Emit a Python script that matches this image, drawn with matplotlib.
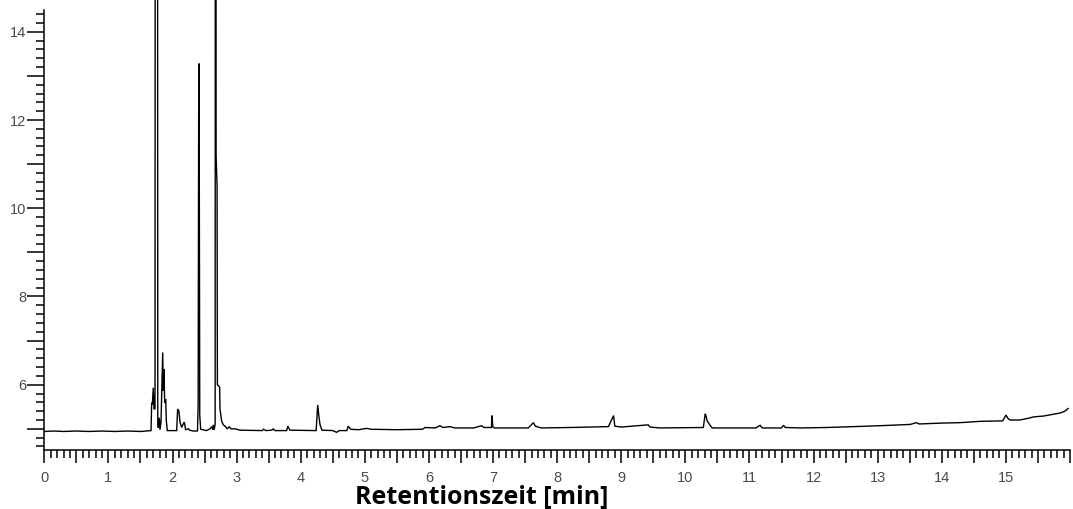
import matplotlib
matplotlib.use("Agg")
import matplotlib.pyplot as plt
from matplotlib.ticker import MultipleLocator, FixedLocator, FuncFormatter

# Retention time [min] and detector signal
time_min = [
    0.00, 0.15, 0.30, 0.50, 0.70, 0.90, 1.10, 1.30, 1.50, 1.665,
    1.675, 1.685, 1.700, 1.711, 1.727, 1.735, 1.762, 1.770, 1.779, 1.794,
    1.805, 1.821, 1.836, 1.847, 1.857, 1.867, 1.878, 1.894, 1.904, 1.919,
    2.065, 2.080, 2.100, 2.117, 2.143, 2.170, 2.184, 2.205, 2.247, 2.265,
    2.325, 2.390, 2.400, 2.408, 2.412, 2.416, 2.425, 2.440, 2.530, 2.585,
    2.610, 2.627, 2.637, 2.650, 2.665, 2.672, 2.680, 2.695, 2.700, 2.735,
    2.741, 2.767, 2.793, 2.819, 2.855, 2.886, 2.910, 2.975, 3.053, 3.400,
    3.420, 3.460, 3.550, 3.570, 3.600, 3.780, 3.800, 3.830, 4.240, 4.265,
    4.280, 4.300, 4.330, 4.500, 4.560, 4.600, 4.720, 4.740, 4.780, 4.900,
    5.030, 5.100, 5.500, 5.900, 5.940, 6.100, 6.170, 6.220, 6.330, 6.400,
    6.700, 6.820, 6.860, 6.975, 6.985, 6.995, 7.020, 7.550, 7.630, 7.660,
    7.750, 8.200, 8.500, 8.800, 8.880, 8.900, 9.000, 9.420, 9.450, 9.600,
    10.280, 10.310, 10.320, 10.340, 10.385, 10.420, 11.100, 11.165, 11.200, 11.500,
    11.530, 11.560, 11.800, 12.200, 12.730, 13.200, 13.510, 13.600, 13.650, 14.000,
    14.290, 14.600, 14.950, 15.000, 15.040, 15.070, 15.220, 15.350, 15.430, 15.590,
    15.740, 15.850, 15.920, 15.970,
]
signal = [
    4.94, 4.95, 4.94, 4.95, 4.94, 4.95, 4.94, 4.95, 4.94, 4.96,
    5.59, 5.55, 5.93, 5.45, 5.45, 40.0, 40.0, 5.10, 5.02, 5.25,
    4.98, 5.17, 6.08, 6.73, 5.86, 6.35, 5.59, 5.67, 5.17, 4.96,
    4.96, 5.45, 5.40, 5.15, 5.03, 5.12, 5.15, 4.98, 5.00, 4.97,
    4.95, 4.95, 5.55, 12.10, 13.28, 12.10, 5.30, 4.99, 4.96, 5.00,
    5.05, 4.98, 5.09, 4.98, 5.10, 40.0, 11.20, 10.50, 6.00, 5.95,
    5.45, 5.17, 5.09, 5.06, 5.00, 5.05, 5.00, 5.00, 4.97, 4.96,
    4.99, 4.96, 4.97, 5.00, 4.96, 4.96, 5.06, 4.97, 4.96, 5.54,
    5.33, 5.10, 4.97, 4.96, 4.92, 4.96, 4.96, 5.06, 4.99, 4.98,
    5.01, 4.99, 4.98, 4.99, 5.03, 5.02, 5.07, 5.03, 5.05, 5.02,
    5.02, 5.07, 5.03, 5.03, 5.30, 5.05, 5.02, 5.02, 5.14, 5.06,
    5.02, 5.03, 5.04, 5.05, 5.30, 5.06, 5.04, 5.09, 5.04, 5.02,
    5.03, 5.34, 5.30, 5.18, 5.08, 5.02, 5.02, 5.08, 5.02, 5.02,
    5.08, 5.03, 5.02, 5.03, 5.055, 5.08, 5.10, 5.14, 5.11, 5.13,
    5.14, 5.17, 5.18, 5.31, 5.22, 5.20, 5.20, 5.24, 5.27, 5.29,
    5.33, 5.36, 5.40, 5.46,
]

x_tick_labels = [str(i) for i in range(16)]
y_tick_labels = ["6", "8", "10", "12", "14"]
x_label = "Retentionszeit [min]"

fig = plt.figure(figsize=(10.73, 5.09), dpi=100)
ax = fig.add_axes([44.3 / 1073, 59 / 509, (1070 - 44.3) / 1073, 450 / 509])

ax.plot(time_min, signal, color="black", lw=1.0, solid_joinstyle="miter")

ax.set_xlim(0, 16.0)
ax.set_ylim(4.52, 14.72)

for s in ("top", "right"):
    ax.spines[s].set_visible(False)
ax.spines["left"].set_bounds(4.52, 14.5)
ax.spines["left"].set_linewidth(1.1)
ax.spines["bottom"].set_linewidth(1.1)

# x ticks
ax.xaxis.set_major_locator(MultipleLocator(0.5))
ax.xaxis.set_minor_locator(MultipleLocator(0.1))
ax.xaxis.set_major_formatter(FuncFormatter(
    lambda v, p: x_tick_labels[int(round(v))] if abs(v - round(v)) < 1e-6 and 0 <= round(v) < len(x_tick_labels) else ""))
ax.tick_params(axis="x", which="major", direction="out", length=9, width=1.1,
               pad=6, labelsize=10.5, labelcolor="#4a4a4a")
ax.tick_params(axis="x", which="minor", direction="out", length=6, width=1.1)

# y ticks
ax.yaxis.set_major_locator(MultipleLocator(1))
ax.yaxis.set_minor_locator(FixedLocator([4.6 + 0.2 * i for i in range(50) if 4.55 < 4.6 + 0.2 * i < 14.5]))
ax.yaxis.set_major_formatter(FuncFormatter(
    lambda v, p: str(int(round(v))) if str(int(round(v))) in y_tick_labels else ""))
ax.tick_params(axis="y", which="major", direction="out", length=12, width=1.1,
               pad=1, labelsize=10.5, labelcolor="#4a4a4a")
ax.tick_params(axis="y", which="minor", direction="out", length=6, width=1.1)
for lbl in ax.get_xticklabels() + ax.get_yticklabels():
    lbl.set_fontfamily(["Liberation Sans", "DejaVu Sans"])

fig.text(481.5 / 1073, 1 - 497 / 509, x_label, ha="center", va="center",
         fontsize=18, fontweight="bold", family=["Open Sans", "DejaVu Sans"])

fig.savefig("out.png", dpi=100)
